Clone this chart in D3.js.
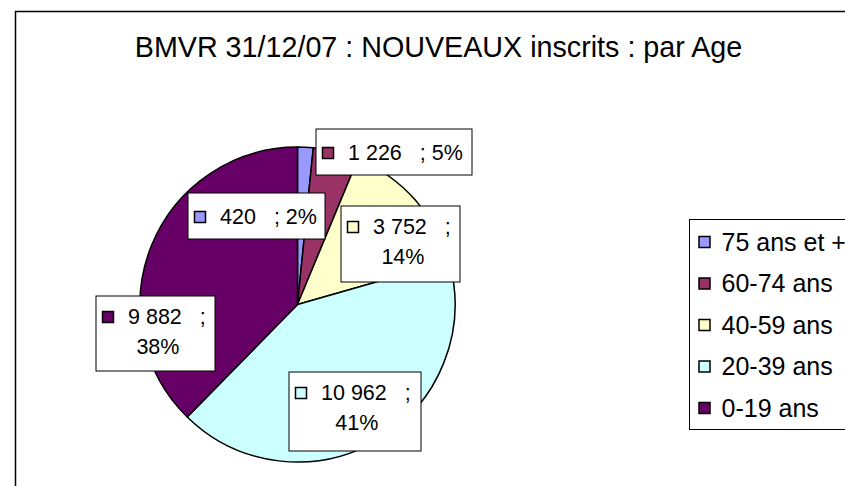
<!DOCTYPE html>
<html>
<head>
<meta charset="utf-8">
<script src="https://cdn.jsdelivr.net/npm/d3@7"></script>
<style>
  html, body { margin: 0; background: #fff; overflow: hidden; }
  svg { display: block; overflow: hidden; font-family: Arial, "Liberation Sans", sans-serif; }
</style>
</head>
<body>
<div id="chart"></div>
<script>
const title = "BMVR 31/12/07 : NOUVEAUX inscrits : par Age";
const categories = ["75 ans et +", "60-74 ans", "40-59 ans", "20-39 ans", "0-19 ans"];
const values = [420, 1226, 3752, 10962, 9882];
const percents = [2, 5, 14, 41, 38];
const colors = ["#9999FF", "#993366", "#FFFFCC", "#CCFFFF", "#660066"];

const width = 845, height = 486;
const cx = 297.5, cy = 304.5, radius = 157.5;

// label boxes: top-left offset from the pie centre, size, two lines or one
const labelBoxes = [
  { dx: -109.5, dy: -111.5, w: 137, h: 46, wrap: false },
  { dx: 18.5, dy: -175.5, w: 156, h: 46, wrap: false },
  { dx: 43.5, dy: -98.5, w: 119, h: 76, wrap: true },
  { dx: -8.5, dy: 67.5, w: 132, h: 79, wrap: true },
  { dx: -201.5, dy: -8.5, w: 119, h: 75, wrap: true }
];

const fr = d3.formatLocale({ decimal: ",", thousands: " ", grouping: [3], currency: ["", " €"] });
const fmt = fr.format(",d");

const svg = d3.select("#chart").append("svg")
  .attr("width", width)
  .attr("height", height);

// chart area border (runs off the right and bottom edges)
svg.append("rect")
  .attr("x", 15.5).attr("y", 11.5)
  .attr("width", 900).attr("height", 600)
  .attr("fill", "#fff")
  .attr("stroke", "#000")
  .attr("stroke-width", 1.5);

svg.append("text")
  .attr("x", 438.5)
  .attr("y", 57)
  .attr("text-anchor", "middle")
  .attr("font-size", 28.7)
  .attr("fill", "#000")
  .text(title);

const color = d3.scaleOrdinal().domain(categories).range(colors);

const pie = d3.pie().sort(null).value(d => d.value);
const data = categories.map((c, i) => ({ cat: c, value: values[i], pct: percents[i], box: labelBoxes[i] }));
const arcs = pie(data);
const arc = d3.arc().innerRadius(0).outerRadius(radius);

const g = svg.append("g").attr("transform", `translate(${cx},${cy})`);

g.selectAll("path.slice")
  .data(arcs)
  .enter()
  .append("path")
  .attr("class", "slice")
  .attr("d", arc)
  .attr("fill", d => color(d.data.cat))
  .attr("stroke", "#000")
  .attr("stroke-width", 1.5)
  .attr("stroke-linejoin", "round");

// data labels
const labels = g.selectAll("g.label")
  .data(arcs)
  .enter()
  .append("g")
  .attr("class", "label")
  .attr("transform", d => `translate(${d.data.box.dx},${d.data.box.dy})`);

labels.append("rect")
  .attr("width", d => d.data.box.w)
  .attr("height", d => d.data.box.h)
  .attr("fill", "#fff")
  .attr("stroke", "#000")
  .attr("stroke-width", 1);

labels.each(function (d) {
  const lab = d3.select(this);
  const b = d.data.box;
  const base1 = b.wrap ? 27.5 : b.h / 2 + 7.5;

  lab.append("rect")
    .attr("x", 6.5).attr("y", base1 - 12)
    .attr("width", 11).attr("height", 11)
    .attr("fill", color(d.data.cat))
    .attr("stroke", "#000")
    .attr("stroke-width", 1.5);

  const t = lab.append("text")
    .attr("x", 32)
    .attr("y", base1)
    .attr("font-size", 21.5)
    .attr("fill", "#000");
  t.append("tspan").text(fmt(d.data.value));
  t.append("tspan").attr("dx", 18).text(b.wrap ? ";" : `; ${d.data.pct}%`);

  if (b.wrap) {
    const lineW = t.node().getComputedTextLength();
    lab.append("text")
      .attr("x", 32 + lineW / 2)
      .attr("y", 58)
      .attr("text-anchor", "middle")
      .attr("font-size", 21.5)
      .attr("fill", "#000")
      .text(`${d.data.pct}%`);
  }
});

// legend
const legend = svg.append("g").attr("transform", "translate(689.5,219.5)");
legend.append("rect")
  .attr("width", 300).attr("height", 210)
  .attr("fill", "#fff")
  .attr("stroke", "#000")
  .attr("stroke-width", 1);

const legendY = d3.scalePoint().domain(categories).range([22.5, 188.5]);

const items = legend.selectAll("g.item")
  .data(categories)
  .enter()
  .append("g")
  .attr("class", "item")
  .attr("transform", d => `translate(0,${legendY(d)})`);

items.append("rect")
  .attr("x", 9.5).attr("y", -5.5)
  .attr("width", 11).attr("height", 11)
  .attr("fill", d => color(d))
  .attr("stroke", "#000")
  .attr("stroke-width", 1.5);

items.append("text")
  .attr("x", 32)
  .attr("y", 8.5)
  .attr("font-size", 25)
  .attr("fill", "#000")
  .text(d => d);
</script>
</body>
</html>
